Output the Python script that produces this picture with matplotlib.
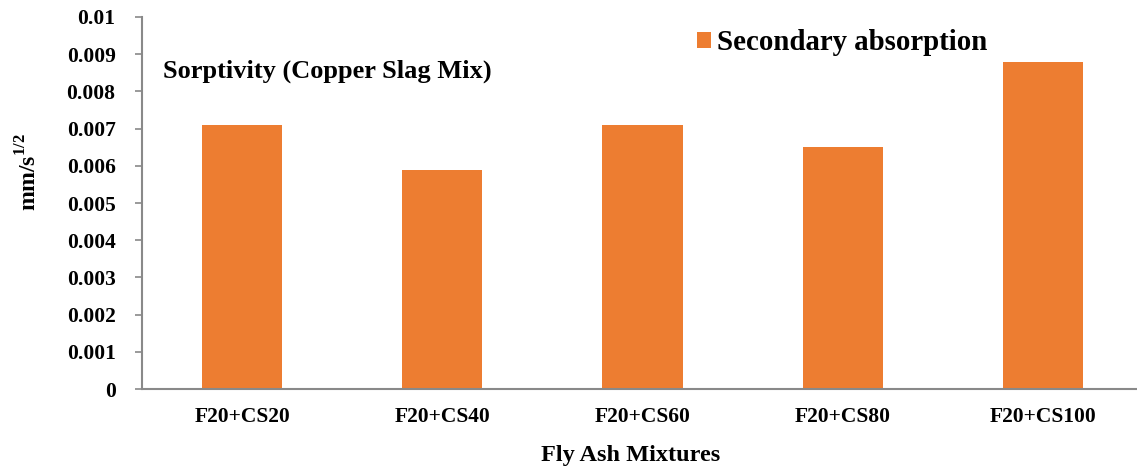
import matplotlib
matplotlib.use("Agg")
import matplotlib.pyplot as plt
from matplotlib.patches import Patch

plt.rcParams["font.family"] = ["Liberation Serif", "DejaVu Serif"]
plt.rcParams["font.weight"] = "bold"
plt.rcParams["mathtext.fontset"] = "custom"
plt.rcParams["mathtext.rm"] = "Liberation Serif"
plt.rcParams["mathtext.bf"] = "Liberation Serif:bold"

categories = ["F20+CS20", "F20+CS40", "F20+CS60", "F20+CS80", "F20+CS100"]
secondary_absorption = [0.0071, 0.0059, 0.0071, 0.0065, 0.0088]
y_ticks = [0, 0.001, 0.002, 0.003, 0.004, 0.005, 0.006, 0.007, 0.008, 0.009, 0.01]
y_tick_labels = ["0", "0.001", "0.002", "0.003", "0.004", "0.005",
                 "0.006", "0.007", "0.008", "0.009", "0.01"]

bar_color = "#ED7D31"
axis_color = "#898989"

fig = plt.figure(figsize=(11.37, 4.69), dpi=100)
ax = fig.add_axes([142 / 1137, 1 - 389 / 469, 1001 / 1137, (389 - 17) / 469])

x = list(range(len(categories)))
ax.bar(x, secondary_absorption, width=0.4, color=bar_color, zorder=2)

ax.set_xlim(-0.5, len(categories) - 0.5)
ax.set_ylim(0, 0.01)
ax.set_yticks(y_ticks)
ax.set_yticklabels(y_tick_labels)
ax.set_xticks(x)
ax.set_xticklabels(categories)

for side in ("top", "right"):
    ax.spines[side].set_visible(False)
for side in ("left", "bottom"):
    ax.spines[side].set_color(axis_color)
    ax.spines[side].set_linewidth(1.5)

ax.tick_params(axis="y", direction="out", length=5, width=1.2, color=axis_color,
               pad=14, labelsize=15.5)
ax.tick_params(axis="x", length=0, pad=13, labelsize=15.5)

fig.text(631 / 1137, 1 - 455 / 469, "Fly Ash Mixtures", ha="center", va="center",
         fontsize=17.5, fontweight="bold")
fig.text(29 / 1137, 1 - 172 / 469, r"mm/s$^{\mathrm{1/2}}$", ha="center", va="center",
         rotation=90, fontsize=17, fontweight="bold")

fig.text(163 / 1137, 1 - 71 / 469, "Sorptivity (Copper Slag Mix)", ha="left",
         va="center", fontsize=19, fontweight="bold")

handle = Patch(facecolor=bar_color, edgecolor="none")
fig.legend([handle], ["Secondary absorption"], loc="center left",
           bbox_to_anchor=(697 / 1137, 1 - 43 / 469), frameon=False,
           prop={"size": 20.8, "weight": "bold"}, handlelength=0.48,
           handleheight=0.48, handletextpad=0.2, borderpad=0, borderaxespad=0)

fig.savefig("out.png", dpi=100)
